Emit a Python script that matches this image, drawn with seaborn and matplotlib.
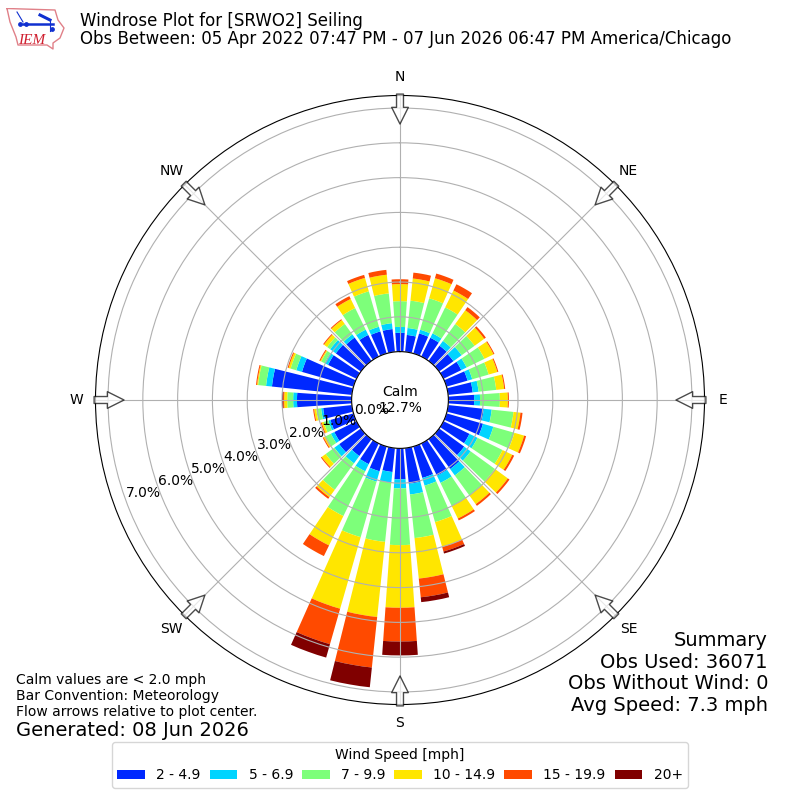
import numpy as np
import pandas as pd
import matplotlib
matplotlib.use("Agg")
import matplotlib.pyplot as plt
import seaborn as sns

# wind direction (deg from north) and percent of obs in each speed bin
directions = np.arange(0, 360, 10)
bin_2_5 = [.54, .49, .60, .60, .54, .51, .57, .63, .71, .74, 1.03, 1.09, .83, .89, 1.06, 1.03, .94, 1.03,
           .89, .69, .74, .66, .60, .77, .71, .69, .83, 1.57, 2.31, 1.54, .91, .89, .83, .69, .66, .66]
bin_5_7 = [.17, .20, .11, .14, .17, .29, .17, .14, .17, .17, .23, .31, .26, .23, .23, .23, .23, .31,
           .26, .31, .31, .23, .26, .17, .11, .06, .06, .11, .17, .17, .11, .20, .11, .17, .14, .17]
bin_7_10 = [.74, .79, .94, .83, .60, .46, .57, .49, .51, .57, .63, .63, .80, .86, .71, .74, 1.09, 1.26,
            1.63, 1.71, 1.66, 1.43, .94, .31, .17, .14, .14, .17, .23, .17, .11, .11, .37, .69, 1.06, .86]
bin_10_15 = [.49, .64, .60, .54, .49, .34, .29, .26, .23, .23, .20, .29, .31, .46, .31, .40, .74, 1.17,
             1.80, 2.17, 2.14, .94, .26, .14, .06, .06, .06, .09, .03, .06, .03, .11, .14, .29, .40, .54]
bin_15_20 = [.14, .17, .14, .20, .11, .06, .03, .03, .03, .03, .06, .06, .06, .06, .06, .06, .14, .54,
             .97, 1.46, 1.06, .34, .06, .03, .03, .03, .03, .03, .03, .03, .03, .03, .03, .09, .09, .14]
bin_20 = [0, 0, 0, 0, 0, 0, 0, 0, 0, 0, 0, 0, 0, 0, 0, 0, .06, .14,
          .40, .57, .40, 0, 0, 0, 0, 0, 0, .03, 0, 0, 0, 0, 0, 0, 0, 0]

speed_bins = [bin_2_5, bin_5_7, bin_7_10, bin_10_15, bin_15_20, bin_20]
speed_labels = ["2 - 4.9", "5 - 6.9", "7 - 9.9", "10 - 14.9", "15 - 19.9", "20+"]
speed_colors = ["#0028ff", "#00d4ff", "#7dff7a", "#ffe600", "#ff4a00", "#800000"]

compass = ["N", "NE", "E", "SE", "S", "SW", "W", "NW"]
compass_deg = [0, 45, 90, 135, 180, 225, 270, 315]

fig = plt.figure(figsize=(8, 8), dpi=100)
ax = fig.add_axes([95.5 / 800, 95.5 / 800, 609 / 800, 609 / 800], projection="polar")
ax.set_theta_zero_location("N")
ax.set_theta_direction(-1)

# stacked bars, one seaborn call per speed bin
bottom = np.zeros(len(directions))
for vals, label, color in zip(speed_bins, speed_labels, speed_colors):
    df = pd.DataFrame({"theta": np.deg2rad(directions), "pct": vals})
    sns.barplot(data=df, x="theta", y="pct", native_scale=True, width=0.8, color=color, saturation=1,
                errorbar=None, bottom=bottom, label=label, linewidth=0, ax=ax)
    bottom = bottom + np.array(vals)

handles, labels = ax.get_legend_handles_labels()
ax.get_legend().remove()

ax.set(xlabel="", ylabel="")
ax.set_rorigin(-1.39)
ax.set_ylim(0, 7.36)
ax.set_rgrids(range(8), labels=[f"{v:.1f}%" for v in range(8)], angle=250)
ax.set_thetagrids(compass_deg, labels=compass)
ax.tick_params(axis="x", pad=3)
ax.grid(True, color="#b0b0b0", linewidth=0.8)

# flow arrows on the compass points
for deg in compass_deg:
    ax.annotate("", xy=(np.deg2rad(deg), 6.54), xytext=(np.deg2rad(deg), 7.4), annotation_clip=False,
                arrowprops=dict(facecolor="white", edgecolor="black", alpha=0.7, width=5,
                                headwidth=12, headlength=12, shrink=0))

fig.text(0.5, 0.5, "Calm\n12.7%", ha="center", va="center", fontsize=10)

fig.text(80 / 800, 1 - 29.5 / 800,
         "Windrose Plot for [SRWO2] Seiling\nObs Between: 05 Apr 2022 07:47 PM - 07 Jun 2026 06:47 PM America/Chicago",
         fontsize=12, va="center", linespacing=1.0)

fig.text(16 / 800, 1 - 696 / 800,
         "Calm values are < 2.0 mph\nBar Convention: Meteorology\nFlow arrows relative to plot center.",
         fontsize=10, va="center", linespacing=1.16)
fig.text(16 / 800, 1 - 730 / 800, "Generated: 08 Jun 2026", fontsize=14, va="center")
fig.text(768 / 800, 1 - 673 / 800, "Summary\nObs Used: 36071\nObs Without Wind: 0\nAvg Speed: 7.3 mph",
         fontsize=14, ha="right", va="center", linespacing=1.18)

fig.legend(handles, labels, title="Wind Speed [mph]", ncol=6, loc="center", columnspacing=0.65,
           bbox_to_anchor=(400 / 800, 1 - 765 / 800), fontsize=10, title_fontsize=10)

# small IEM logo: Iowa outline, station symbol (axes in picture pixels)
logo = fig.add_axes([6 / 800, 1 - 52 / 800, 60 / 800, 44 / 800])
logo.axis("off")
logo.set_xlim(6, 66)
logo.set_ylim(52, 8)
iowa_x = [7, 55, 58, 64, 60, 53, 53, 47, 18, 16, 10, 7]
iowa_y = [8.5, 10, 20, 28, 38, 43, 49, 45, 45, 37, 22, 8.5]
logo.plot(iowa_x, iowa_y, color="#e08088", linewidth=1)
logo.plot([23, 53], [24, 24], color="#1030d0", linewidth=1.8)
logo.plot([17, 23], [12, 22], color="#1030d0", linewidth=0.8)
logo.plot([40, 50], [15, 20], color="#1030d0", linewidth=2.2)
logo.plot([50, 50], [20, 31], color="#1030d0", linewidth=0.8)
logo.scatter([20, 26, 52], [24, 24, 29], color="#1030d0", s=6)
logo.text(18, 44, "IEM", color="#d02030", fontsize=11, family="Liberation Serif", style="italic")

fig.savefig("out.png", dpi=100)
